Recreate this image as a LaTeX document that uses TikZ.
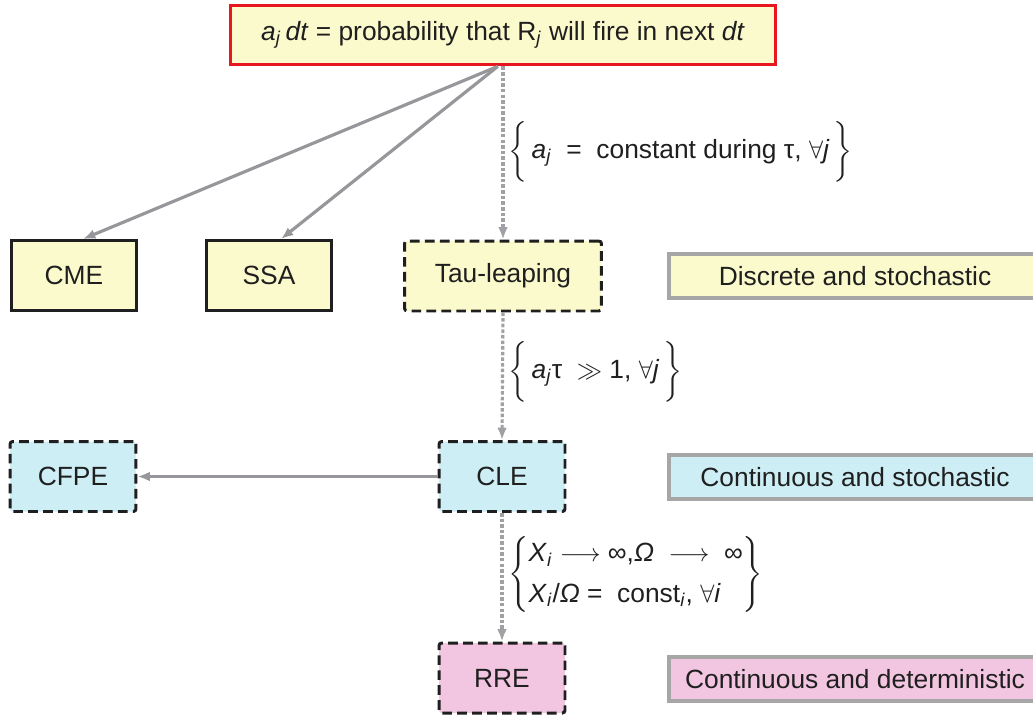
\documentclass[tikz,border=0pt]{standalone}
\usepackage{fontspec}
\setmainfont{Liberation Sans}
\usepackage{amsmath}
\usepackage{tikz}
\usetikzlibrary{shapes,arrows,arrows.meta,positioning}
\definecolor{boxyellow}{RGB}{251,250,204}
\definecolor{boxcyan}{RGB}{206,238,245}
\definecolor{boxpink}{RGB}{242,198,224}
\definecolor{framered}{RGB}{232,22,30}
\definecolor{linkgray}{RGB}{150,150,155}
\newcommand{\vsub}[2]{\textit{#1}\textsubscript{\textit{#2}}}

\begin{document}
\begin{tikzpicture}[x=0.02cm,y=-0.02cm,
  every node/.style={font=\fontsize{15}{19}\selectfont,text=black!88},
  model/.style={draw=black!88,line width=1.7pt,minimum height=1.4cm,inner sep=0pt},
  approx/.style={model,dash pattern=on 5.5pt off 3pt,rounded corners=1.5pt},
  regime/.style={draw=black!35,line width=2.2pt,minimum width=7.44cm,minimum height=0.88cm,inner sep=0pt},
  link/.style={draw=linkgray,line width=1.8pt,-{Latex[length=7pt,width=5.5pt]}},
  limit/.style={link,dash pattern=on 2pt off 1.2pt,draw=linkgray!90},
  cond/.style={anchor=west,inner sep=0pt}]
\useasboundingbox (0,0) rectangle (1033,717);
\clip (0,0) rectangle (1033,717);

\node[draw=framered,line width=2.2pt,fill=boxyellow,minimum width=10.9cm,minimum height=1.18cm] (top) at (503,35)
  {\vsub{a}{j}\,\textit{dt} = probability that R\textsubscript{\textit{j}} will fire in next \textit{dt}};

\node[model,fill=boxyellow,minimum width=2.5cm] (cme) at (74,275.5) {CME};
\node[model,fill=boxyellow,minimum width=2.5cm] (ssa) at (269,275.5) {SSA};
\node[approx,fill=boxyellow,minimum width=3.94cm] (tau) at (503,276) {Tau-leaping};
\node[approx,fill=boxcyan,minimum width=2.52cm] (cfpe) at (73,476.5) {CFPE};
\node[approx,fill=boxcyan,minimum width=2.52cm] (cle) at (502,476.5) {CLE};
\node[approx,fill=boxpink,minimum width=2.52cm] (rre) at (502,678) {RRE};

\node[regime,fill=boxyellow] (discrete) at (855,276) {Discrete and stochastic};
\node[regime,fill=boxcyan] (contstoch) at (855,477) {Continuous and stochastic};
\node[regime,fill=boxpink] (contdet) at (855,679) {Continuous and deterministic};

\node[cond] (constant) at (508,152)
  {$\biggl\{$\,\vsub{a}{j} \;=\; constant during τ, $\forall$\textit{j}\,$\biggr\}$};
\node[cond] (manyfire) at (508,372)
  {$\biggl\{$\,\vsub{a}{j}τ \;$\gg$ 1, $\forall$\textit{j}\,$\biggr\}$};
\node[cond] (biglimit) at (508,574)
  {\renewcommand{\arraystretch}{1.2}$\left\{\begin{tabular}{@{}l@{}}
    \vsub{X}{i} $\longrightarrow$ ∞,\textit{Ω} \;$\longrightarrow$\; ∞\\
    \vsub{X}{i}/\textit{Ω} = \;const\textsubscript{\textit{i}}, $\forall$\textit{i}
  \end{tabular}\right\}$};

\draw[link] ([xshift=-3pt]top.south) -- ([xshift=0.18cm]cme.north);
\draw[link] ([xshift=-3pt]top.south) -- ([xshift=0.24cm]ssa.north);
\draw[limit] (top.south) -- (tau.north);
\draw[limit] (tau.south) -- (cle.north);
\draw[limit] (cle.south) -- (rre.north);
\draw[link] (cle.west) -- (cfpe.east);
\end{tikzpicture}
\end{document}
